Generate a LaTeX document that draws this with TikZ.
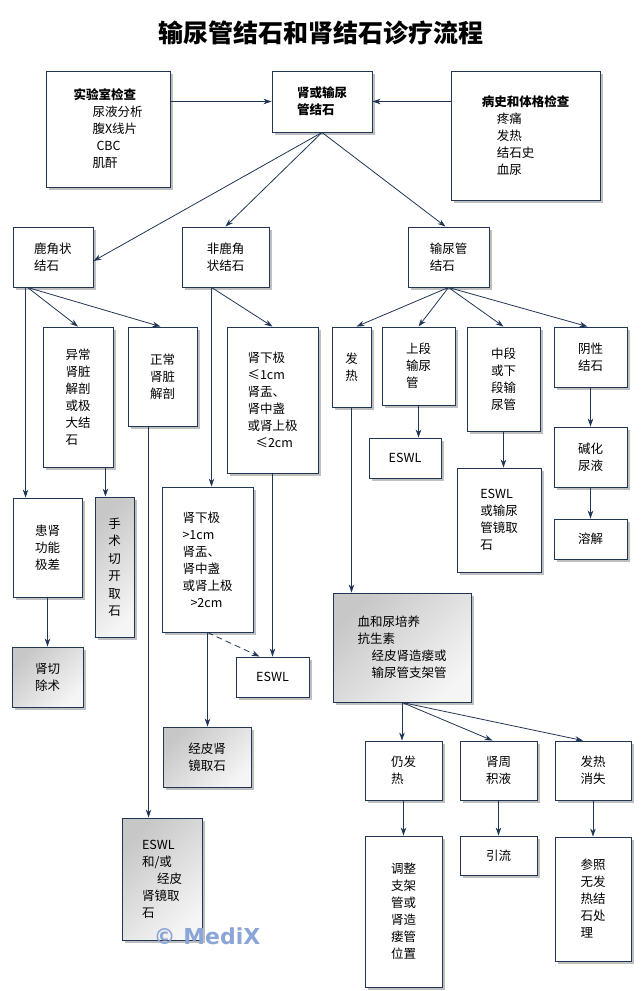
\documentclass[tikz,border=0pt]{standalone}
\usepackage{fontspec}
\setmainfont{Noto Sans CJK SC}
\newfontfamily\wmfont{DejaVu Sans}
\usetikzlibrary{arrows.meta,shadows}
\definecolor{navy}{RGB}{33,53,84}
\definecolor{markblue}{RGB}{140,165,215}

\begin{document}
\begin{tikzpicture}[x=1pt,y=-1pt,
		box/.style={draw=navy, line width=0.9pt, fill=white, align=left, inner sep=0pt,
			font=\fontsize{12.5}{17}\selectfont,
			drop shadow={shadow xshift=3pt, shadow yshift=-3pt, opacity=0.25, fill=black}},
		graybox/.style={box, top color=black!22, bottom color=black!4, shading angle=45},
		arr/.style={draw=navy, line width=0.8pt, -{Stealth[length=8pt,width=5.5pt]}}]
	\useasboundingbox (0,0) rectangle (642,991);

	\node (title) at (321,33) {\fontsize{25}{28}\selectfont\bfseries 输尿管结石和肾结石诊疗流程};

	\node[box, minimum width=124, minimum height=116] (lab) at (108,129)
		{{\bfseries 实验室检查}\\\hspace*{19pt}尿液分析\\\hspace*{19pt}腹X线片\\\hspace*{23pt}CBC\\\hspace*{19pt}肌酐};
	\node[box, minimum width=100, minimum height=61] (main) at (322,101.5) {\bfseries 肾或输尿\\\bfseries 管结石};
	\node[box, minimum width=149, minimum height=129] (bing) at (525.5,135.5)
		{{\bfseries 病史和体格检查}\\\hspace*{15pt}疼痛\\\hspace*{15pt}发热\\\hspace*{15pt}结石史\\\hspace*{15pt}血尿};

	\node[box, minimum width=80, minimum height=60] (lu) at (53,257) {鹿角状\\结石};
	\node[box, minimum width=87, minimum height=60] (fei) at (225.5,257) {非鹿角\\状结石};
	\node[box, minimum width=81, minimum height=60] (ure) at (448.5,257) {输尿管\\结石};

	\node[box, minimum width=70, minimum height=140] (abn) at (78,397) {异常\\肾脏\\解剖\\或极\\大结\\石};
	\node[box, minimum width=69, minimum height=99] (norm) at (162.5,376.5) {正常\\肾脏\\解剖};
	\node[box, minimum width=91, minimum height=146] (le) at (272.5,400)
		{肾下极\\≤1cm\\肾盂、\\肾中盏\\或肾上极\\\hspace*{8pt}≤2cm};
	\node[box, minimum width=39, minimum height=80] (fr) at (351.5,367) {发\\热};
	\node[box, minimum width=73, minimum height=78] (sd) at (418.5,366) {上段\\输尿\\管};
	\node[box, minimum width=73, minimum height=104] (zd) at (503.5,379) {中段\\或下\\段输\\尿管};
	\node[box, minimum width=73, minimum height=60] (yx) at (590.5,357) {阴性\\结石};

	\node[box, minimum width=72, minimum height=40] (e1) at (405,458) {ESWL};
	\node[box, minimum width=84, minimum height=104] (eu) at (499,520) {ESWL\\或输尿\\管镜取\\石};
	\node[box, minimum width=73, minimum height=60] (jh) at (590.5,457) {碱化\\尿液};
	\node[box, minimum width=73, minimum height=40] (rj) at (590.5,539) {溶解};

	\node[box, minimum width=69, minimum height=99] (huan) at (47.5,547.5) {患肾\\功能\\极差};
	\node[graybox, minimum width=39, minimum height=140, font=\fontsize{12.5}{17.5}\selectfont] (ss) at (114.5,567)
		{手\\术\\切\\开\\取\\石};
	\node[graybox, minimum width=71, minimum height=60] (qie) at (47.5,677) {肾切\\除术};
	\node[box, minimum width=91, minimum height=145] (gt) at (207.5,559.5)
		{肾下极\\>1cm\\肾盂、\\肾中盏\\或肾上极\\\hspace*{8pt}>2cm};
	\node[box, minimum width=73, minimum height=40] (e2) at (272.5,677) {ESWL};
	\node[graybox, minimum width=88, minimum height=60] (pk) at (207,757) {经皮肾\\镜取石};
	\node[graybox, minimum width=80, minimum height=122] (eh) at (162,879)
		{ESWL\\和/或\\\hspace*{15pt}经皮\\肾镜取\\石};

	\node[graybox, minimum width=138, minimum height=109] (xp) at (402,647.5)
		{血和尿培养\\抗生素\\\hspace*{14pt}经皮肾造瘘或\\\hspace*{14pt}输尿管支架管};
	\node[box, minimum width=77, minimum height=59] (rf) at (403.5,770.5) {仍发\\热};
	\node[box, minimum width=77, minimum height=59] (sz) at (498.5,770.5) {肾周\\积液};
	\node[box, minimum width=76, minimum height=59] (rx) at (593,770.5) {发热\\消失};
	\node[box, minimum width=77, minimum height=151] (tz) at (403.5,911.5) {调整\\支架\\管或\\肾造\\瘘管\\位置};
	\node[box, minimum width=77, minimum height=39] (yl) at (498.5,855.5) {引流};
	\node[box, minimum width=76, minimum height=124] (cz) at (593,899) {参照\\无发\\热结\\石处\\理};

	\draw[arr] (lab.east |- main.west) -- (main.west);
	\draw[arr] (bing.west |- main.east) -- (main.east);
	\draw[arr] (main.south) -- ([yshift=-4pt]lu.east);
	\draw[arr] (main.south) -- (fei.north);
	\draw[arr] (main.south) -- ([xshift=-3pt]ure.north);

	\draw[arr] ([xshift=15pt]lu.south west) -- (abn.north);
	\draw[arr] ([xshift=15pt]lu.south west) -- ([xshift=-2pt]norm.north);
	\draw[arr] ([xshift=13pt]lu.south west) -- ([xshift=13pt]lu.south west |- huan.north);
	\draw[arr] ([xshift=-8pt]abn.south east) -- ([xshift=-8pt]abn.south east |- ss.north);
	\draw[arr] ([xshift=21pt]norm.south west) -- ([xshift=21pt]norm.south west |- eh.north);
	\draw[arr] (huan.south) -- (qie.north);

	\draw[arr] ([xshift=30pt]fei.south west) -- ([xshift=30pt]fei.south west |- gt.north);
	\draw[arr] ([xshift=30pt]fei.south west) -- (le.north);
	\draw[arr] (le.south) -- (le.south |- e2.north);
	\draw[arr, dash pattern=on 6pt off 4pt] (gt.south) -- ([xshift=24pt]e2.north west);
	\draw[arr] (gt.south) -- (gt.south |- pk.north);

	\draw[arr] (ure.south) -- ([xshift=5pt]fr.north);
	\draw[arr] (ure.south) -- (sd.north);
	\draw[arr] (ure.south) -- (zd.north);
	\draw[arr] (ure.south) -- ([xshift=-3pt]yx.north);
	\draw[arr] (fr.south) -- (fr.south |- xp.north);
	\draw[arr] (sd.south) -- (sd.south |- e1.north);
	\draw[arr] (zd.south) -- (zd.south |- eu.north);
	\draw[arr] (yx.south) -- (jh.north);
	\draw[arr] (jh.south) -- (rj.north);

	\draw[arr] (xp.south) -- (xp.south |- rf.north);
	\draw[arr] (xp.south) -- ([xshift=-6pt]sz.north);
	\draw[arr] (xp.south) -- ([xshift=-10pt]rx.north);
	\draw[arr] (rf.south) -- (tz.north);
	\draw[arr] (sz.south) -- (yl.north);
	\draw[arr] (rx.south) -- (cz.north);

	\node[text=markblue, font=\wmfont\bfseries\fontsize{22}{22}\selectfont] (mark) at (207,936) {© MediX};
\end{tikzpicture}
\end{document}
